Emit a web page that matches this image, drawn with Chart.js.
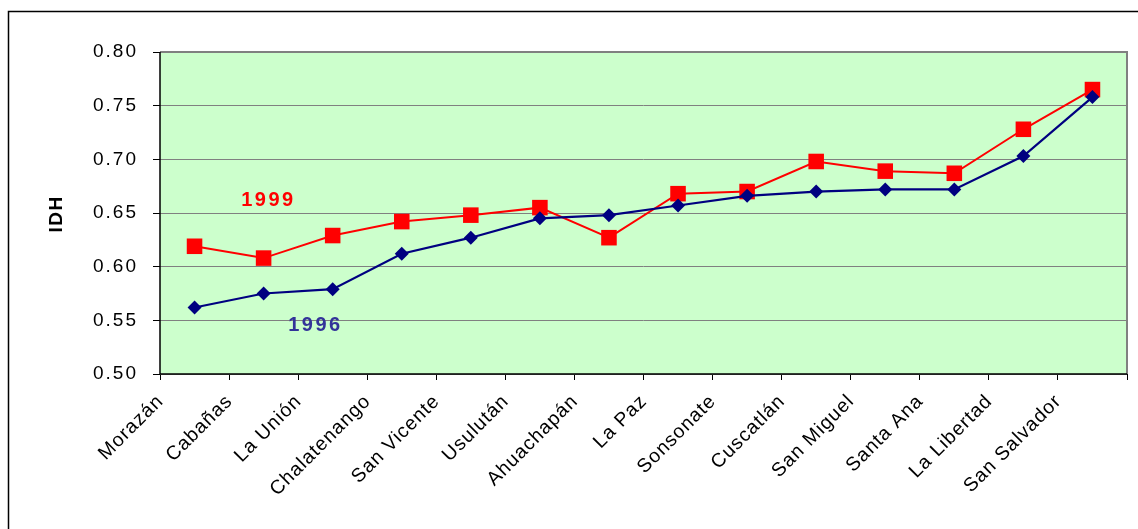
<!DOCTYPE html>
<html>
<head>
<meta charset="utf-8">
<script src="https://cdn.jsdelivr.net/npm/chart.js@4.4.1/dist/chart.umd.min.js"></script>
<style>
  html, body { margin: 0; padding: 0; background: #fff; }
  #wrap { position: relative; width: 1138px; height: 529px; }
  canvas { display: block; }
</style>
</head>
<body>
<div id="wrap"><canvas id="c" width="1138" height="529"></canvas></div>
<script>
// Departamentos de El Salvador, ordenados por IDH
const departamentos = [
  'Morazán', 'Cabañas', 'La Unión', 'Chalatenango', 'San Vicente', 'Usulután',
  'Ahuachapán', 'La Paz', 'Sonsonate', 'Cuscatlán', 'San Miguel', 'Santa Ana',
  'La Libertad', 'San Salvador'
];
const idh1996 = [0.562, 0.575, 0.579, 0.612, 0.627, 0.645, 0.648, 0.657, 0.666, 0.670, 0.672, 0.672, 0.703, 0.758];
const idh1999 = [0.619, 0.608, 0.629, 0.642, 0.648, 0.655, 0.627, 0.668, 0.670, 0.698, 0.689, 0.687, 0.728, 0.765];
const yTicks = [0.50, 0.55, 0.60, 0.65, 0.70, 0.75, 0.80];

// Etiquetas de serie dentro del área del gráfico: [texto, índice de categoría, valor, color]
const serieLabels = [
  ['1999', 1.07, 0.662, '#ff0000'],
  ['1996', 1.75, 0.5453, '#333399']
];

const FONT = "'Liberation Sans', Arial, sans-serif";

// Marco exterior, fondo del área de trazado y espaciado de letras
const decor = {
  id: 'decor',
  beforeLayout(chart) { chart.ctx.letterSpacing = '2px'; },
  afterLayout(chart) {
    // las etiquetas del eje X van con un espaciado menor
    const xs = chart.scales.x;
    if (!xs._spacingWrapped) {
      const orig = xs.drawLabels;
      xs.drawLabels = function (area) {
        const ctx = this.ctx;
        const prev = ctx.letterSpacing;
        ctx.letterSpacing = '1px';
        orig.call(this, area);
        ctx.letterSpacing = prev;
      };
      xs._spacingWrapped = true;
    }
  },
  beforeDraw(chart) {
    const ctx = chart.ctx;
    ctx.letterSpacing = '2px';
    const a = chart.chartArea;
    ctx.save();
    ctx.fillStyle = '#ffffff';
    ctx.fillRect(0, 0, chart.width, chart.height);
    ctx.strokeStyle = '#000000';
    ctx.lineWidth = 1.5;
    ctx.beginPath();
    ctx.moveTo(8.5, chart.height + 5);
    ctx.lineTo(8.5, 11.5);
    ctx.lineTo(chart.width + 5, 11.5);
    ctx.stroke();
    ctx.fillStyle = '#ccffcc';
    ctx.fillRect(a.left, a.top, a.right - a.left, a.bottom - a.top);
    ctx.restore();
  },
  afterDatasetsDraw(chart) {
    const ctx = chart.ctx;
    const x = chart.scales.x, y = chart.scales.y;
    ctx.save();
    ctx.font = "bold 20px " + FONT;
    ctx.letterSpacing = '2.5px';
    ctx.textAlign = 'center';
    ctx.textBaseline = 'middle';
    serieLabels.forEach(([t, i, v, c]) => {
      ctx.fillStyle = c;
      ctx.fillText(t, x.getPixelForValue(i), y.getPixelForValue(v));
    });
    // Título del eje Y
    ctx.fillStyle = '#000000';
    ctx.font = "bold 19px " + FONT;
    ctx.letterSpacing = '1.5px';
    ctx.translate(57, (chart.chartArea.top + chart.chartArea.bottom) / 2 + 1);
    ctx.rotate(-Math.PI / 2);
    ctx.fillText('IDH', 0, 0);
    ctx.restore();
  },
  afterDraw(chart) {
    const ctx = chart.ctx;
    const a = chart.chartArea;
    ctx.save();
    ctx.strokeStyle = '#808080';
    ctx.lineWidth = 2;
    ctx.beginPath();
    ctx.moveTo(a.left, a.top);
    ctx.lineTo(a.right, a.top);
    ctx.lineTo(a.right, a.bottom);
    ctx.stroke();
    ctx.strokeStyle = '#000000';
    ctx.lineWidth = 1.5;
    ctx.beginPath();
    ctx.moveTo(a.left, a.top);
    ctx.lineTo(a.left, a.bottom);
    ctx.lineTo(a.right, a.bottom);
    ctx.stroke();
    ctx.restore();
  }
};

new Chart(document.getElementById('c'), {
  type: 'line',
  data: {
    labels: departamentos,
    datasets: [
      {
        label: '1996',
        data: idh1996,
        borderColor: '#000080',
        backgroundColor: '#000080',
        borderWidth: 2.2,
        pointStyle: 'rectRot',
        pointRadius: 7,
        pointBorderWidth: 0,
        tension: 0
      },
      {
        label: '1999',
        data: idh1999,
        borderColor: '#ff0000',
        backgroundColor: '#ff0000',
        borderWidth: 2,
        pointStyle: 'rect',
        pointRadius: 11,
        pointBorderWidth: 0,
        tension: 0
      }
    ]
  },
  options: {
    responsive: false,
    animation: false,
    layout: { padding: { left: 0, top: 52, right: 8, bottom: 0 } },
    plugins: { legend: { display: false }, tooltip: { enabled: false } },
    scales: {
      x: {
        offset: true,
        afterFit(s) { s.height = 155; },
        border: { display: false },
        grid: { offset: true, drawOnChartArea: false, tickLength: 6, color: '#000000', lineWidth: 1 },
        ticks: {
          autoSkip: false,
          maxRotation: 45,
          minRotation: 45,
          labelOffset: -34,
          padding: 10,
          color: '#000000',
          font: { family: FONT, size: 19.5 }
        }
      },
      y: {
        min: 0.5,
        max: 0.8,
        afterFit(s) { s.width = 160; },
        afterBuildTicks(s) { s.ticks = yTicks.map(v => ({ value: v })); },
        border: { display: false },
        grid: { color: '#808080', tickColor: '#000000', tickLength: 7, lineWidth: 1 },
        ticks: {
          padding: 15,
          color: '#000000',
          font: { family: FONT, size: 19 },
          callback: v => Number(v).toFixed(2)
        }
      }
    }
  },
  plugins: [decor]
});
</script>
</body>
</html>
